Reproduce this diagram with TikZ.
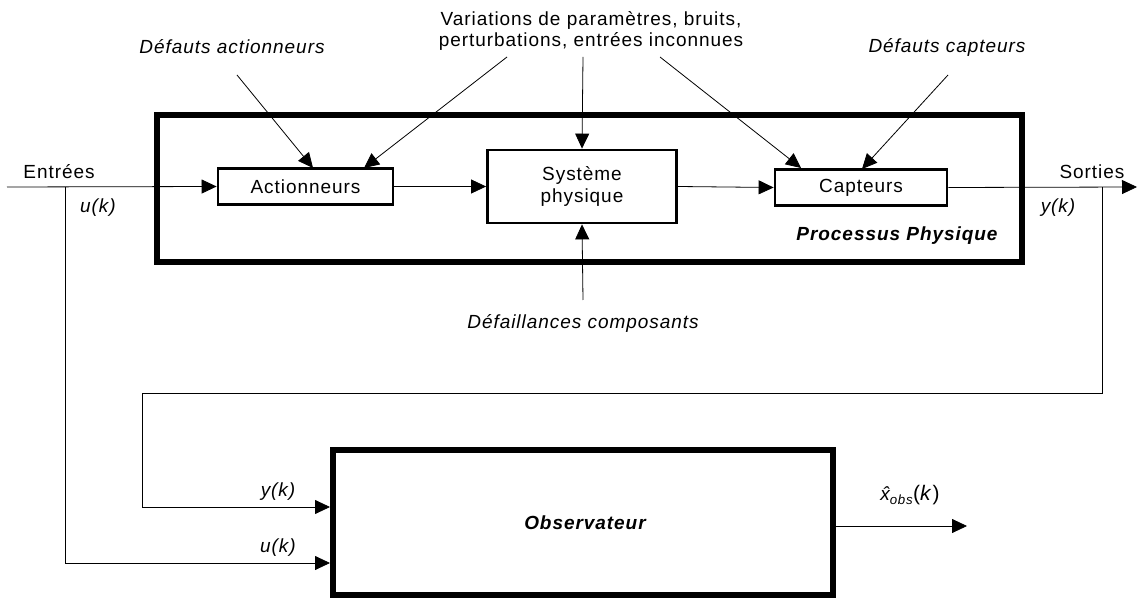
\documentclass[tikz,border=0pt]{standalone}
\usepackage{fontspec}
\setmainfont{Liberation Sans}[LetterSpace=5]
\usetikzlibrary{arrows.meta}
\begin{document}
\begin{tikzpicture}[x=1pt,y=-1pt,
  every node/.style={font=\fontsize{19}{20}\selectfont, inner sep=0pt},
  lbl/.style={font=\fontsize{19}{20}\selectfont\itshape},
  bold/.style={font=\fontsize{19}{20}\selectfont\bfseries\itshape},
  blk/.style={draw, line width=2.8pt, minimum height=36pt},
  conn/.style={line width=0.8pt, -{Triangle[length=15pt,width=14pt]}},
  wire/.style={line width=0.8pt}]
\useasboundingbox (0,0) rectangle (1138,601);
\fill[white] (0,0) rectangle (1138,601);

% physical process frame
\draw[line width=5.5pt] (157,115) rectangle (1022,262);
\node[bold] (proc) at (897,236) {Processus Physique};

% blocks of the process
\node[blk, minimum width=175pt] (act) at (305.5,186.5) {Actionneurs};
\node[blk, minimum width=189pt, minimum height=73pt, align=center] (sys) at (582,186.5) {Système\\[2pt]physique};
\node[blk, minimum width=172pt] (cap) at (861,187.5) {Capteurs};

% observer
\node[draw, line width=6pt, minimum width=500pt, minimum height=145pt, bold] (obs) at (583,522.5) {};
\node[bold] (obsl) at (585,523) {Observateur};

% input / output texts
\coordinate (in) at (7,187);
\coordinate (out) at (1137,187);
\coordinate (ubr) at (65,187);
\coordinate (ybr) at (1102,187);
\node (ent) at (59,172) {Entrées};
\node (sor) at (1092,172) {Sorties};
\node[lbl] (uk) at (98,208) {u(k)};
\node[lbl] (yk) at (1058,208) {y(k)};

% disturbance labels
\node[lbl] (da) at (232,47) {Défauts actionneurs};
\node[align=center] (var) at (591,31) {Variations de paramètres, bruits,\\[1pt]perturbations, entrées inconnues};
\node[lbl] (dc) at (947,47) {Défauts capteurs};
\node[lbl] (dfc) at (583,323) {Défaillances composants};

% main chain
\draw[conn] (in) -- (act.west);
\draw[conn] (act.east) -- (sys.west);
\draw[conn] (sys.east) -- (cap.west);
\draw[conn] (cap.east) -- (out);

% disturbance arrows
\draw[conn] (237,75) -- (313,168);
\draw[conn] (507,57) -- (364,168);
\draw[conn] (583,57) -- (sys.north);
\draw[conn] (660,57) -- (801,168);
\draw[conn] (948,75) -- (862,169);
\draw[conn] (583,300) -- (sys.south);

% observer inputs and output
\coordinate (yin) at (obs.west |- 0,507);
\coordinate (uin) at (obs.west |- 0,563);
\draw[conn] (ybr) -- (1102,393) -- (142,393) -- (142,507) -- (yin);
\draw[conn] (ubr) -- (65,563) -- (uin);
\node[lbl] (yk2) at (278,492) {y(k)};
\node[lbl] (uk2) at (278,548) {u(k)};
\coordinate (xo) at (967,526);
\draw[conn] (obs.east |- xo) -- (xo);
\node (xh) at (910,495) {{\itshape\^{x}\textsubscript{obs}}\fontsize{21}{22}\selectfont(\textit{k})};
\end{tikzpicture}
\end{document}
